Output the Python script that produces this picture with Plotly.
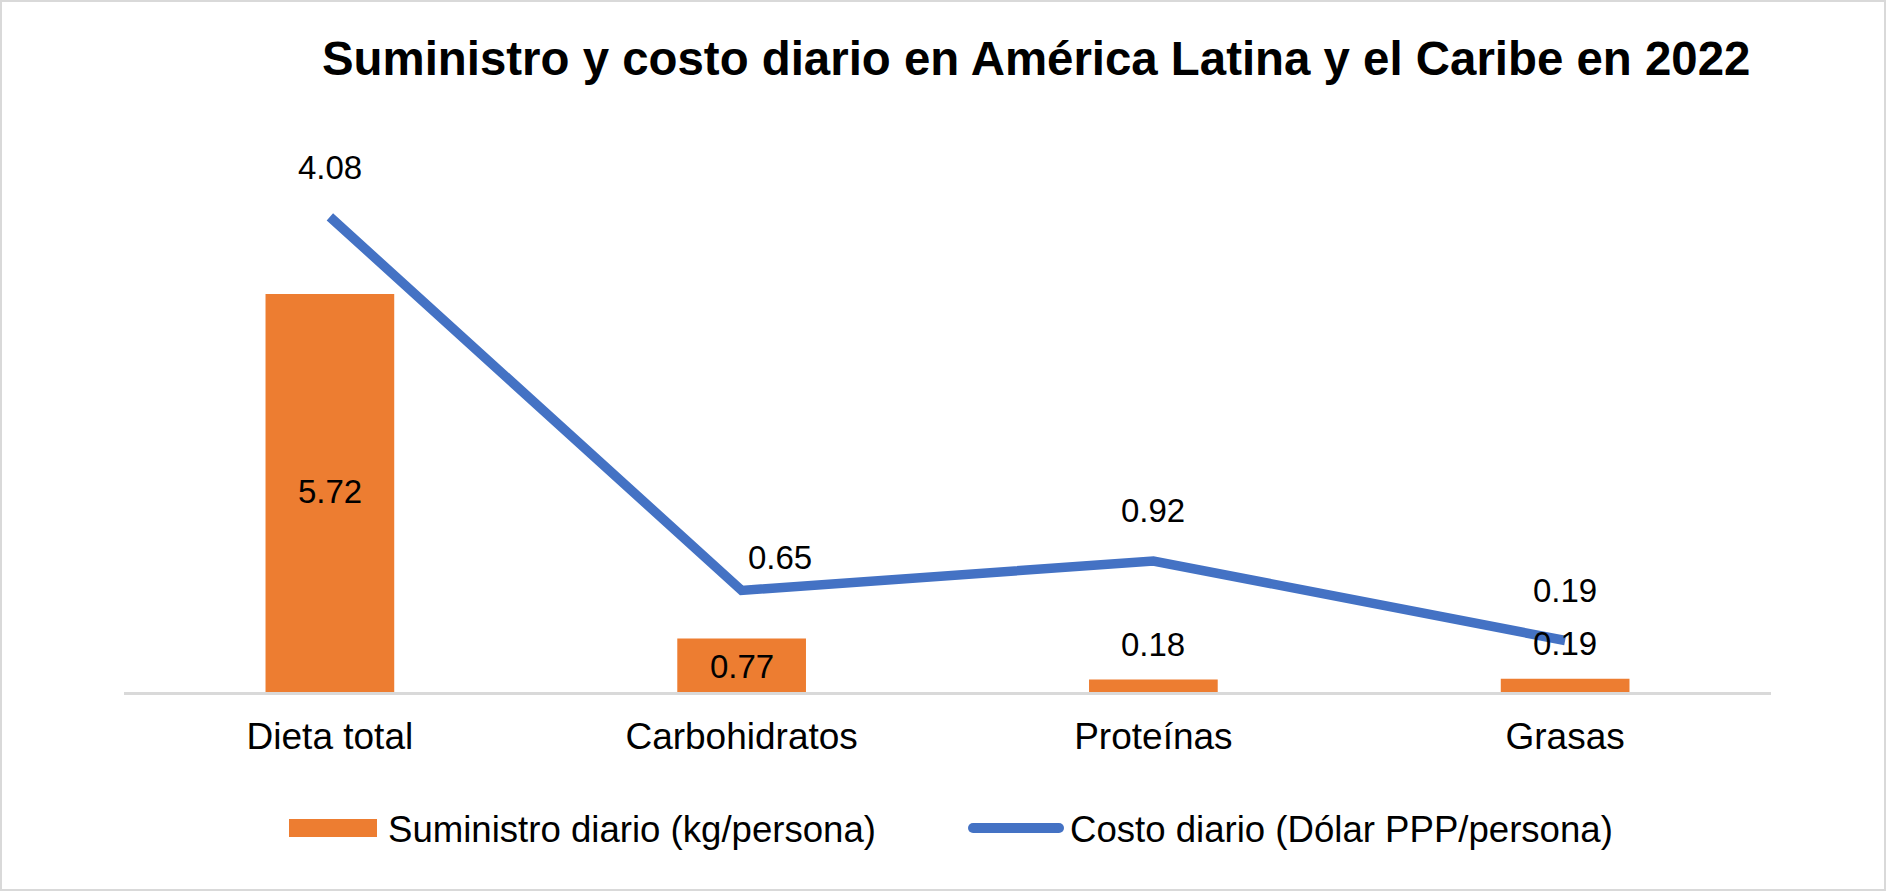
import plotly.graph_objects as go

# ---------------- data ----------------
categories = ["Dieta total", "Carbohidratos", "Proteínas", "Grasas"]
suministro = [5.72, 0.77, 0.18, 0.19]   # kg/persona (primary axis)
costo = [4.08, 0.65, 0.92, 0.19]        # Dólar PPP/persona (secondary axis)
name_suministro = "Suministro diario (kg/persona)"
name_costo = "Costo diario (Dólar PPP/persona)"
title_text = "Suministro y costo diario en América Latina y el Caribe en 2022"

# ---------------- layout constants (pixels) ----------------
W, H = 1886, 891
L, R, T, B = 124, 1771, 130, 692          # plot area
PX_PER_UNIT_Y1 = 69.6
PX_PER_UNIT_Y2 = 108.9
Y2_ZERO_PX = 661.2

y1_range = [0, (B - T) / PX_PER_UNIT_Y1]
y2_range = [-(B - Y2_ZERO_PX) / PX_PER_UNIT_Y2, (Y2_ZERO_PX - T) / PX_PER_UNIT_Y2]

def px_x(px):
    return (px - L) / (R - L)

def px_y(py):
    return (B - py) / (B - T)

FONT = "Liberation Sans, Arial, sans-serif"
ORANGE = "#ED7D31"
BLUE = "#4472C4"
GRID = "#D9D9D9"
LABEL_SIZE = 33
AXIS_SIZE = 37
LEGEND_SIZE = 36.6

fig = go.Figure()
fig.add_trace(go.Bar(
    x=categories, y=suministro, name=name_suministro,
    marker=dict(color=ORANGE, line=dict(width=0)),
    yaxis="y", showlegend=False, hoverinfo="skip",
))
fig.add_trace(go.Scatter(
    x=categories, y=costo, name=name_costo, mode="lines",
    line=dict(color=BLUE, width=9.5),
    yaxis="y2", showlegend=False, hoverinfo="skip",
))

annotations = []
# bar labels: (inside-centre or above), offsets in px
bar_label_style = [("center", 1.5), ("center", -1), ("above", 34.5), ("above", 35.5)]
for cat, v, (mode, dy) in zip(categories, suministro, bar_label_style):
    yv = v / 2 if mode == "center" else v
    annotations.append(dict(
        x=cat, y=yv, xref="x", yref="y", text=f"{v:.2f}", showarrow=False,
        yshift=dy, font=dict(family=FONT, size=LABEL_SIZE, color="#000000"),
        xanchor="center", yanchor="middle",
    ))
# line labels
line_label_shift = [(0, 49), (38.5, 32.5), (0, 50.5), (0, 50.5)]
for cat, v, (dx, dy) in zip(categories, costo, line_label_shift):
    annotations.append(dict(
        x=cat, y=v, xref="x", yref="y2", text=f"{v:.2f}", showarrow=False,
        xshift=dx, yshift=dy, font=dict(family=FONT, size=LABEL_SIZE, color="#000000"),
        xanchor="center", yanchor="middle",
    ))
# title
annotations.append(dict(
    x=px_x(1036), y=px_y(58.5), xref="paper", yref="paper",
    text=f"<b>{title_text}</b>", showarrow=False,
    font=dict(family=FONT, size=47.4, color="#000000"),
    xanchor="center", yanchor="middle",
))
# legend texts
annotations.append(dict(
    x=px_x(386), y=px_y(829), xref="paper", yref="paper",
    text=name_suministro, showarrow=False,
    font=dict(family=FONT, size=LEGEND_SIZE, color="#000000"),
    xanchor="left", yanchor="middle",
))
annotations.append(dict(
    x=px_x(1068), y=px_y(829), xref="paper", yref="paper",
    text=name_costo, showarrow=False,
    font=dict(family=FONT, size=LEGEND_SIZE, color="#000000"),
    xanchor="left", yanchor="middle",
))

shapes = [
    # legend swatches
    dict(type="rect", xref="paper", yref="paper",
         x0=px_x(289), x1=px_x(377), y0=px_y(837), y1=px_y(819),
         fillcolor=ORANGE, line=dict(width=0)),
    dict(type="line", xref="paper", yref="paper",
         x0=px_x(973), x1=px_x(1059), y0=px_y(828), y1=px_y(828),
         line=dict(color=BLUE, width=10)),
    dict(type="circle", xref="paper", yref="paper",
         x0=px_x(968), x1=px_x(978), y0=px_y(833), y1=px_y(823),
         fillcolor=BLUE, line=dict(width=0)),
    dict(type="circle", xref="paper", yref="paper",
         x0=px_x(1054), x1=px_x(1064), y0=px_y(833), y1=px_y(823),
         fillcolor=BLUE, line=dict(width=0)),
    # outer border
    dict(type="rect", xref="paper", yref="paper",
         x0=px_x(1), x1=px_x(W - 1), y0=px_y(H - 1), y1=px_y(1),
         line=dict(color=GRID, width=2), fillcolor="rgba(0,0,0,0)", layer="below"),
]

fig.update_layout(
    width=W, height=H,
    margin=dict(l=L, r=W - R, t=T, b=H - B, pad=0),
    paper_bgcolor="white", plot_bgcolor="white",
    bargap=1 - 128.7 / 411.75,
    font=dict(family=FONT, color="#000000"),
    xaxis=dict(
        type="category", range=[-0.5, 3.5], showgrid=False, zeroline=False,
        showline=True, linecolor=GRID, linewidth=2.5, ticks="",
        tickfont=dict(family=FONT, size=AXIS_SIZE, color="#000000"),
        ticklabelstandoff=10,
    ),
    yaxis=dict(range=y1_range, visible=False, showgrid=False, zeroline=False),
    yaxis2=dict(range=y2_range, visible=False, overlaying="y", side="right",
                showgrid=False, zeroline=False),
    annotations=annotations,
    shapes=shapes,
    showlegend=False,
)

fig.write_html(
    "out.html",
    config={"displayModeBar": False, "staticPlot": True},
    post_script="document.body.style.margin='0px';document.body.style.overflow='hidden';",
)
